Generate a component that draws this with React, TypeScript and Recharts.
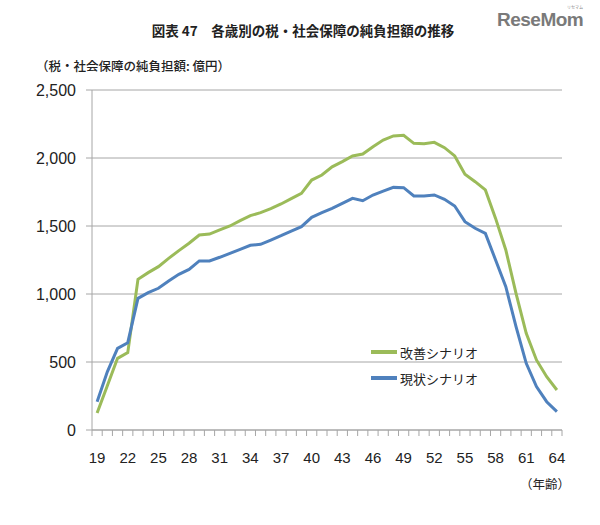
import React from "react";
import { LineChart, Line, XAxis, YAxis, CartesianGrid, Legend } from "recharts";

// 年齢 19〜64
const ages = [
  19, 20, 21, 22, 23, 24, 25, 26, 27, 28, 29, 30, 31, 32, 33, 34, 35, 36, 37, 38, 39, 40, 41,
  42, 43, 44, 45, 46, 47, 48, 49, 50, 51, 52, 53, 54, 55, 56, 57, 58, 59, 60, 61, 62, 63, 64,
];

// 改善シナリオ (億円)
const improved = [
  125, 325, 527, 569, 1108, 1157, 1201, 1262, 1319, 1373, 1434, 1441, 1471, 1500, 1539, 1576,
  1598, 1627, 1662, 1701, 1740, 1838, 1875, 1935, 1973, 2015, 2029, 2083, 2132, 2162, 2167, 2108,
  2105, 2115, 2076, 2015, 1880, 1826, 1765, 1556, 1324, 1005, 711, 515, 392, 294,
];

// 現状シナリオ (億円)
const current = [
  208, 428, 600, 642, 968, 1010, 1042, 1096, 1145, 1181, 1243, 1243, 1270, 1299, 1328, 1358,
  1365, 1397, 1429, 1463, 1495, 1564, 1598, 1630, 1667, 1703, 1686, 1728, 1757, 1784, 1782, 1721,
  1721, 1728, 1696, 1647, 1532, 1483, 1446, 1250, 1054, 760, 490, 319, 208, 135,
];

const yTicks = [0, 500, 1000, 1500, 2000, 2500];

const data = ages.map((age, i) => ({ age, improved: improved[i], current: current[i] }));

const GREEN = "#9BBB59";
const BLUE = "#4F81BD";
const GRID = "#a6a6a6";
const FONT = "'Liberation Sans', Arial, sans-serif";
const JP = "'Noto Sans CJK JP', sans-serif";

const half = 470 / ages.length / 2;

const AgeTick = (props: any) => {
  const { x, y, payload, index } = props;
  const age = payload.value as number;
  const top = y - 6;
  return (
    <g>
      <line x1={x - half} x2={x - half} y1={top} y2={top + 6} stroke={GRID} />
      {index === ages.length - 1 && (
        <line x1={x + half} x2={x + half} y1={top} y2={top + 6} stroke={GRID} />
      )}
      {(age - 19) % 3 === 0 && (
        <text x={x} y={y + 16} dy="0.71em" textAnchor="middle" fontSize={15} fontFamily={FONT} fill="#222">
          {age}
        </text>
      )}
    </g>
  );
};

const renderLegend = (props: any) => {
  const items = props.payload || [];
  return (
    <div>
      {items.map((p: any) => (
        <div key={p.value} style={{ display: "flex", alignItems: "center", height: 26 }}>
          <div style={{ width: 26, height: 4, background: p.color, marginRight: 3 }} />
          <span style={{ fontFamily: JP, fontSize: 13, color: "#222" }}>{p.value}</span>
        </div>
      ))}
    </div>
  );
};

export default function App() {
  return (
    <div style={{ position: "absolute", left: 0, top: 0, width: 600, height: 525, background: "#fff" }}>
      <div
        style={{
          position: "absolute",
          left: 0,
          width: 606,
          top: 20,
          textAlign: "center",
          fontFamily: JP,
          fontSize: 13.5,
          fontWeight: 700,
          color: "#222",
          whiteSpace: "pre",
        }}
      >
        図表 47　各歳別の税・社会保障の純負担額の推移
      </div>
      <div
        style={{
          position: "absolute",
          left: 497,
          top: 9,
          fontFamily: FONT,
          fontSize: 19,
          fontWeight: 700,
          color: "#7a7a7a",
          letterSpacing: -0.5,
        }}
      >
        ReseMom
      </div>
      <div style={{ position: "absolute", left: 567, top: 4, fontFamily: JP, fontSize: 4, color: "#888" }}>
        リセマム
      </div>
      <div
        style={{
          position: "absolute",
          left: 36,
          top: 56,
          fontFamily: JP,
          fontSize: 12.5,
          fontWeight: 500,
          color: "#222",
          whiteSpace: "pre",
        }}
      >
        （税・社会保障の純負担額: 億円）
      </div>
      <div
        style={{
          position: "absolute",
          left: 520,
          top: 474,
          fontFamily: JP,
          fontSize: 12.5,
          color: "#222",
        }}
      >
        （年齢）
      </div>
      <LineChart width={600} height={525} data={data} margin={{ top: 90, right: 38, bottom: 0, left: 0 }}>
        <CartesianGrid vertical={false} stroke={GRID} strokeWidth={1} />
        <XAxis
          dataKey="age"
          interval={0}
          padding={{ left: half, right: half }}
          axisLine={{ stroke: GRID }}
          tickLine={false}
          tickSize={6}
          tickMargin={0}
          tick={<AgeTick />}
          height={95}
        />
        <YAxis
          width={92}
          domain={[0, 2500]}
          ticks={yTicks}
          interval={0}
          axisLine={{ stroke: GRID }}
          tickLine={{ stroke: GRID }}
          tickSize={6}
          tickMargin={10}
          tick={{ fontSize: 16, fontFamily: FONT, fill: "#222" }}
          tickFormatter={(v: number) => v.toLocaleString("en-US")}
        />
        <Legend
          content={renderLegend}
          layout="vertical"
          align="center"
          verticalAlign="middle"
          wrapperStyle={{ position: "absolute", left: 371, top: 339, width: 150 }}
        />
        <Line
          type="linear"
          dataKey="improved"
          name="改善シナリオ"
          stroke={GREEN}
          strokeWidth={3}
          dot={false}
          isAnimationActive={false}
        />
        <Line
          type="linear"
          dataKey="current"
          name="現状シナリオ"
          stroke={BLUE}
          strokeWidth={3}
          dot={false}
          isAnimationActive={false}
        />
      </LineChart>
    </div>
  );
}
